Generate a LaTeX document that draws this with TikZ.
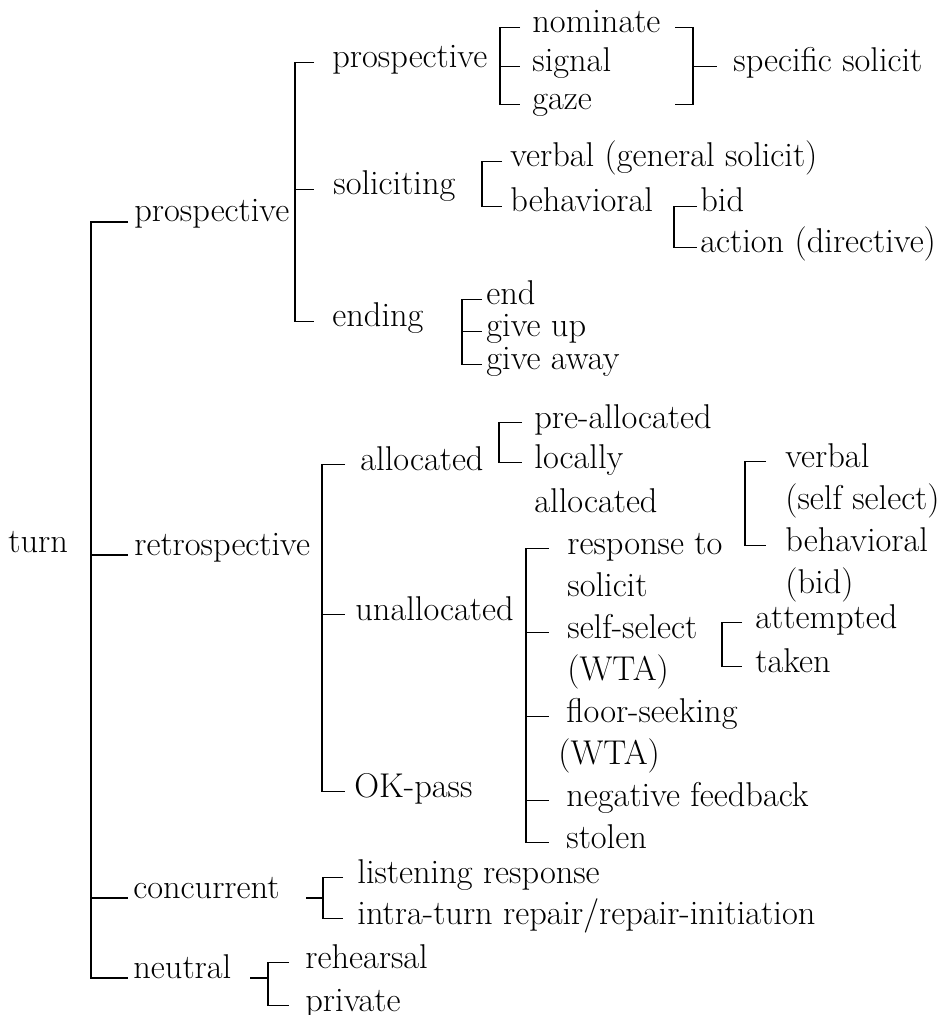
\documentclass[tikz,border=0pt]{standalone}
\usepackage{tikz}
\tikzstyle{term} = [anchor=base west, inner sep=0pt, text height=10pt, text depth=4.5pt, font=\fontsize{17.2}{21}\selectfont]
\tikzstyle{bar} = [line width=0.8pt, black]

\begin{document}
\begin{tikzpicture}[x=0.5pt, y=-0.5pt]
\useasboundingbox (0,0) rectangle (939,1015);

% first level
\node (turn) [term] at (8,552) {turn};
\node (pro) [term] at (134,222) {prospective};
\node (retro) [term] at (134,555) {retrospective};
\node (conc) [term] at (133,898) {concurrent};
\node (neut) [term] at (133,978) {neutral};

% prospective branch
\node (pro2) [term] at (332,68) {prospective};
\node (solic) [term] at (333,195) {soliciting};
\node (endg) [term] at (332,327) {ending};
\node (nom) [term] at (532,33) {nominate};
\node (sig) [term] at (532,72) {signal};
\node (gaz) [term] at (532,110) {gaze};
\node (spec) [term] at (733,72) {specific solicit};
\node (verbgen) [term] at (510,167) {verbal (general solicit)};
\node (behav) [term] at (510,212) {behavioral};
\node (bid) [term] at (700,212) {bid};
\node (act) [term] at (700,253) {action (directive)};
\node (endd) [term] at (486,305) {end};
\node (giveup) [term] at (486,337) {give up};
\node (giveaway) [term] at (486,370) {give away};

% retrospective branch
\node (alloc) [term] at (360,470) {allocated};
\node (unalloc) [term] at (355,620) {unallocated};
\node (okpass) [term] at (354,797) {OK-pass};
\node (prealloc) [term] at (534,428) {pre-allocated};
\node (locally) [term] at (534,468) {locally};
\node (locally2) [term] at (534,512) {allocated};
\node (resp) [term] at (567,554) {response to};
\node (resp2) [term] at (567,596) {solicit};
\node (selfsel) [term] at (567,638) {self-select};
\node (selfsel2) [term] at (567,680) {(WTA)};
\node (floor) [term] at (566,722) {floor-seeking};
\node (floor2) [term] at (558,764) {(WTA)};
\node (negfb) [term] at (566,806) {negative feedback};
\node (stolen) [term] at (566,848) {stolen};
\node (verbal) [term] at (785,467) {verbal};
\node (verbal2) [term] at (785,509) {(self select)};
\node (bhv) [term] at (785,551) {behavioral};
\node (bhv2) [term] at (785,593) {(bid)};
\node (attempt) [term] at (755,628) {attempted};
\node (taken) [term] at (755,672) {taken};

% concurrent and neutral branches
\node (listen) [term] at (357,883) {listening response};
\node (intra) [term] at (357,924) {intra-turn repair/repair-initiation};
\node (rehears) [term] at (305,968) {rehearsal};
\node (private) [term] at (305,1011) {private};

% spine and tick columns
\coordinate (s0) at (91,0);   \coordinate (t0) at (128,0);
\coordinate (sP) at (295,0);  \coordinate (tP) at (314,0);
\coordinate (sPS) at (500,0); \coordinate (tPS) at (520,0);
\coordinate (rst) at (675,0); \coordinate (rsp) at (693,0); \coordinate (rse) at (717,0);
\coordinate (sSO) at (482,0); \coordinate (tSO) at (502,0);
\coordinate (sBE) at (674,0); \coordinate (tBE) at (697,0);
\coordinate (sEN) at (462,0); \coordinate (tEN) at (482,0);
\coordinate (sR) at (322,0);  \coordinate (tR) at (345,0);
\coordinate (sAL) at (499,0); \coordinate (tAL) at (522,0);
\coordinate (sUN) at (526,0); \coordinate (tUN) at (549,0);
\coordinate (sRS) at (745,0); \coordinate (tRS) at (766,0);
\coordinate (sSS) at (722,0); \coordinate (tSS) at (742,0);
\coordinate (cL) at (306,0);  \coordinate (sC) at (323,0);  \coordinate (tC) at (343,0);
\coordinate (nL) at (250,0);  \coordinate (sN) at (268,0);  \coordinate (tN) at (289,0);

% turn
\draw [bar] (pro.base west -| t0) -- (pro.base west -| s0) -- (neut.base west -| s0) -- (neut.base west -| t0);
\draw [bar] (retro.base west -| s0) -- (retro.base west -| t0);
\draw [bar] (conc.base west -| s0) -- (conc.base west -| t0);

% prospective
\draw [bar] (pro2.west -| tP) -- (pro2.west -| sP) -- (endg.west -| sP) -- (endg.west -| tP);
\draw [bar] (solic.west -| sP) -- (solic.west -| tP);
\draw [bar] (nom.west -| tPS) -- (nom.west -| sPS) -- (gaz.west -| sPS) -- (gaz.west -| tPS);
\draw [bar] (sig.west -| sPS) -- (sig.west -| tPS);
\draw [bar] (nom.west -| rst) -- (nom.west -| rsp) -- (gaz.west -| rsp) -- (gaz.west -| rst);
\draw [bar] (spec.west -| rsp) -- (spec.west -| rse);
\draw [bar] (verbgen.west -| tSO) -- (verbgen.west -| sSO) -- (behav.west -| sSO) -- (behav.west -| tSO);
\draw [bar] (bid.west -| tBE) -- (bid.west -| sBE) -- (act.west -| sBE) -- (act.west -| tBE);
\draw [bar] (endd.west -| tEN) -- (endd.west -| sEN) -- (giveaway.west -| sEN) -- (giveaway.west -| tEN);
\draw [bar] (giveup.west -| sEN) -- (giveup.west -| tEN);

% retrospective
\draw [bar] (alloc.west -| tR) -- (alloc.west -| sR) -- (okpass.west -| sR) -- (okpass.west -| tR);
\draw [bar] (unalloc.west -| sR) -- (unalloc.west -| tR);
\draw [bar] (prealloc.west -| tAL) -- (prealloc.west -| sAL) -- (locally.west -| sAL) -- (locally.west -| tAL);
\draw [bar] (resp.west -| tUN) -- (resp.west -| sUN) -- (stolen.west -| sUN) -- (stolen.west -| tUN);
\draw [bar] (selfsel.west -| sUN) -- (selfsel.west -| tUN);
\draw [bar] (floor.west -| sUN) -- (floor.west -| tUN);
\draw [bar] (negfb.west -| sUN) -- (negfb.west -| tUN);
\draw [bar] (verbal.west -| tRS) -- (verbal.west -| sRS) -- (bhv.west -| sRS) -- (bhv.west -| tRS);
\draw [bar] (attempt.west -| tSS) -- (attempt.west -| sSS) -- (taken.west -| sSS) -- (taken.west -| tSS);

% concurrent and neutral
\draw [bar] (conc.base -| cL) -- (conc.base -| sC);
\draw [bar] (listen.west -| tC) -- (listen.west -| sC) -- (intra.west -| sC) -- (intra.west -| tC);
\draw [bar] (neut.base -| nL) -- (neut.base -| sN);
\draw [bar] (rehears.west -| tN) -- (rehears.west -| sN) -- (private.west -| sN) -- (private.west -| tN);

\end{tikzpicture}
\end{document}
